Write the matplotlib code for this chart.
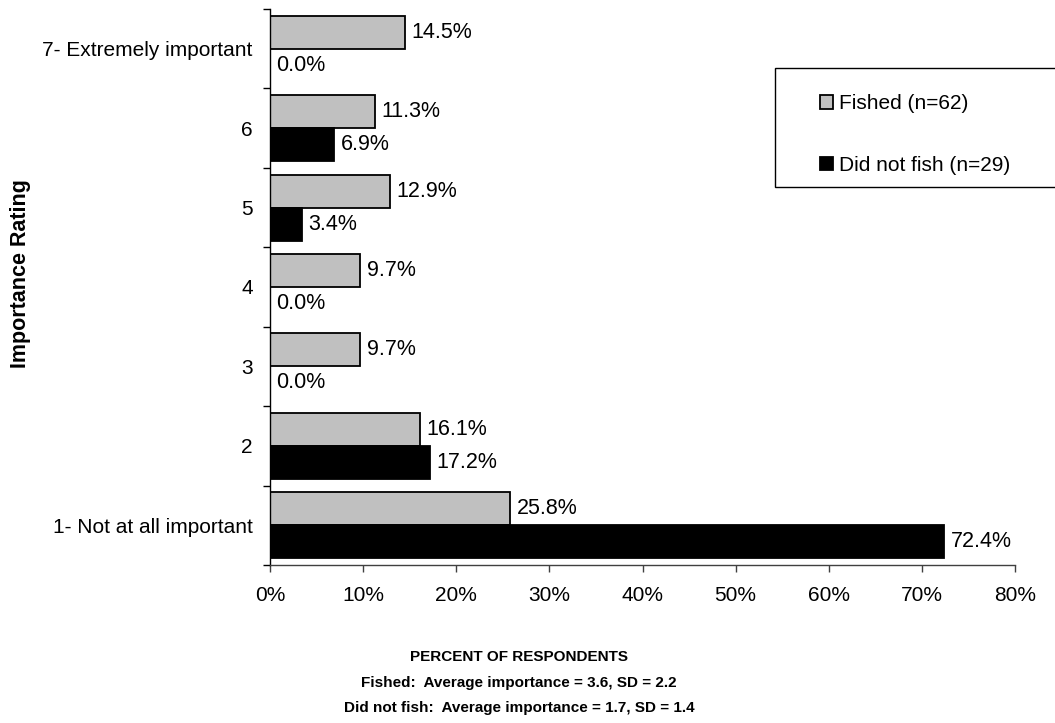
import matplotlib
matplotlib.use("Agg")
import matplotlib.pyplot as plt
from matplotlib.patches import Rectangle
import numpy as np

plt.rcParams['font.family'] = ['Liberation Sans', 'DejaVu Sans']

categories = ["1- Not at all important", "2", "3", "4", "5", "6", "7- Extremely important"]
fished = [25.8, 16.1, 9.7, 9.7, 12.9, 11.3, 14.5]
did_not_fish = [72.4, 17.2, 0.0, 0.0, 3.4, 6.9, 0.0]
series_labels = ["Fished (n=62)", "Did not fish (n=29)"]
x_ticks = [0, 10, 20, 30, 40, 50, 60, 70, 80]
xlabel_lines = ["PERCENT OF RESPONDENTS",
                "Fished:  Average importance = 3.6, SD = 2.2",
                "Did not fish:  Average importance = 1.7, SD = 1.4"]

W, H = 1055, 723
fig = plt.figure(figsize=(W / 100, H / 100), dpi=100)
ax = fig.add_axes([270 / W, 1 - 565 / H, (1015 - 270) / W, (565 - 9) / H])

y = np.arange(len(categories))
bh = 0.415
b1 = ax.barh(y + bh / 2, fished, height=bh, color="#c0c0c0", edgecolor="black", linewidth=1.3, label=series_labels[0])
b2 = ax.barh(y - bh / 2, did_not_fish, height=bh, color="black", edgecolor="black", linewidth=1.3, label=series_labels[1])

fs = 15
dfs = 15.5
for yy, v in zip(y + bh / 2, fished):
    ax.annotate(f"{v:.1f}%", (v, yy), xytext=(4.5, 0), textcoords="offset points",
                va="center", ha="left", fontsize=dfs)
for yy, v in zip(y - bh / 2, did_not_fish):
    ax.annotate(f"{v:.1f}%", (v, yy), xytext=(4.5, 0), textcoords="offset points",
                va="center", ha="left", fontsize=dfs)

ax.set_xlim(0, 80)
ax.set_ylim(-0.5, len(categories) - 0.5)
ax.set_xticks(x_ticks)
ax.set_xticklabels([f"{t}%" for t in x_ticks], fontsize=fs)
ax.set_yticks(y)
ax.set_yticklabels(categories, fontsize=fs)
ax.tick_params(axis="y", which="major", length=0, pad=12.5)
ax.set_yticks(np.arange(-0.5, len(categories), 1.0), minor=True)
ax.tick_params(axis="y", which="minor", length=5, width=1)
ax.tick_params(axis="x", length=5, width=1, pad=10, color="#404040")

for s in ["top", "right"]:
    ax.spines[s].set_visible(False)
ax.spines["left"].set_linewidth(1)
ax.spines["bottom"].set_linewidth(1)
ax.spines["bottom"].set_color("#404040")

fig.text(21 / W, 1 - 274 / H, "Importance Rating", rotation=90, ha="center", va="center",
         fontsize=15.5, fontweight="bold")
for i, line in enumerate(xlabel_lines):
    fig.text(519 / W, 1 - (657 + 25.5 * i) / H, line, ha="center", va="center",
             fontsize=11, fontweight="bold")

# legend frame
fig.patches.append(Rectangle((775 / W, 1 - 187 / H), (1070 - 775) / W, (187 - 68) / H,
                             transform=fig.transFigure, facecolor="white",
                             edgecolor="black", linewidth=1, zorder=3))
leg = fig.legend(handles=[b1, b2], labels=series_labels, loc="upper left",
                 bbox_to_anchor=(812 / W, 1 - 86 / H), frameon=False, fontsize=fs,
                 handlelength=0.6, handleheight=0.6, handletextpad=0.3,
                 labelspacing=2.05, borderaxespad=0)
leg.set_zorder(4)

fig.savefig("out.png", dpi=100)
